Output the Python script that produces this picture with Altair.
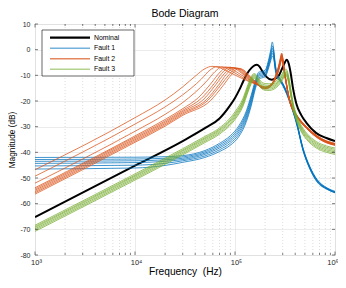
import altair as alt
import pandas as pd

# ---------------- data ----------------
TITLE = "Bode Diagram"
GROUPS = ["Nominal", "Fault 1", "Fault 2", "Fault 3"]
COLORS = ["#000000", "#0072BD", "#D95319", "#77AC30"]

NOMINAL_F = [1e3, 1e4, 3e4, 5e4, 7e4, 8.9e4, 1e5, 1.12e5, 1.21e5, 1.33e5, 1.47e5, 1.57e5, 1.65e5,
             1.75e5, 1.87e5, 2.05e5, 2.33e5, 2.55e5, 2.75e5, 2.95e5, 3.15e5, 3.29e5, 3.45e5, 3.6e5,
             3.8e5, 4.1e5, 4.6e5, 5.2e5, 6.5e5, 8.2e5, 1e6]
NOMINAL_DB = [-65.2, -45.2, -35.6, -30.6, -26.8, -21.8, -18.8, -15.2, -12.3, -9.2, -7.0, -6.1, -5.9,
              -6.5, -8.3, -10.5, -11.7, -11.2, -10.0, -7.5, -5.0, -3.9, -5.5, -9.0,
              -15.0, -21.0, -25.5, -28.6, -32.5, -34.4, -35.6]

FAULT1_F = [1e3, 1e4, 2e4, 3e4, 5e4, 7e4, 9e4, 1.1e5, 1.3e5, 1.45e5, 1.6e5, 1.72e5, 1.85e5, 2.0e5,
            2.15e5, 2.28e5, 2.36e5, 2.44e5, 2.52e5, 2.62e5, 2.8e5, 3e5, 3.3e5, 3.6e5, 4.1e5, 4.8e5,
            5.6e5, 6.6e5, 8.3e5, 1e6]
FAULT1_DB = [
    [-42.0, -41.9, -41.7, -41.3, -39.3, -36.5, -33.5, -29.5, -23.8, -17.8, -12.0, -8.8, -8.5, -8.0,
     -4.5, 0.0, 3.0, 0.0, -5.0, -9.0, -11.0, -13.0, -16.5, -20.5, -27.5, -38.5, -45.5, -50.5, -53.8, -55.2],
    [-42.8, -42.6, -42.3, -41.8, -39.8, -37.1, -34.2, -30.3, -24.6, -18.6, -12.6, -9.4, -9.0, -8.6,
     -5.2, -1.0, 1.5, -0.8, -5.6, -9.4, -11.3, -13.2, -16.7, -20.7, -27.7, -38.7, -45.7, -50.7, -54.0, -55.4],
    [-43.5, -43.3, -42.9, -42.3, -40.3, -37.7, -34.9, -31.1, -25.4, -19.4, -13.2, -9.9, -9.5, -9.1,
     -5.8, -1.8, 0.5, -1.5, -6.1, -9.7, -11.5, -13.4, -16.9, -20.9, -27.9, -38.9, -45.9, -50.9, -54.1, -55.5],
    [-44.3, -44.0, -43.5, -42.8, -40.8, -38.3, -35.6, -31.9, -26.2, -20.2, -13.8, -10.4, -10.0, -9.6,
     -6.4, -2.6, -0.5, -2.2, -6.6, -10.0, -11.7, -13.6, -17.1, -21.1, -28.1, -39.1, -46.1, -51.1, -54.2, -55.6],
    [-45.3, -45.0, -44.3, -43.3, -41.4, -39.0, -36.4, -32.8, -27.1, -21.1, -14.5, -11.0, -10.5, -10.1,
     -7.0, -3.4, -1.5, -2.9, -7.1, -10.3, -11.9, -13.8, -17.3, -21.3, -28.3, -39.3, -46.3, -51.3, -54.3, -55.7],
    [-46.5, -46.1, -45.1, -43.9, -42.0, -39.7, -37.2, -33.7, -28.0, -22.0, -15.2, -11.6, -11.0, -10.6,
     -7.6, -4.2, -2.5, -3.6, -7.6, -10.6, -12.1, -14.0, -17.5, -21.5, -28.5, -39.5, -46.5, -51.5, -54.4, -55.8],
]

FAULT2_TAIL_F = [1.8e5, 2.0e5, 2.2e5, 2.4e5, 2.6e5, 2.75e5, 2.86e5, 2.93e5, 3.0e5, 3.1e5, 3.3e5,
                 3.55e5, 3.8e5, 4.1e5, 4.6e5, 5.2e5, 6.5e5, 8.2e5, 1e6]
FAULT2_HEAD_F = [
    [1e3, 1e4, 2e4, 3e4, 4.1e4, 5e4, 5.9e4, 7e4, 8.5e4, 1.05e5, 1.3e5, 1.6e5],
    [1e3, 1e4, 2e4, 3e4, 4.6e4, 5.6e4, 6.6e4, 7.8e4, 9.5e4, 1.15e5, 1.35e5, 1.6e5],
    [1e3, 1e4, 2e4, 3e4, 5.2e4, 6.3e4, 7.4e4, 8.7e4, 1.05e5, 1.25e5, 1.45e5, 1.6e5],
    [1e3, 1e4, 2e4, 3e4, 4.3e4, 5.8e4, 7e4, 8.3e4, 9.7e4, 1.15e5, 1.35e5, 1.6e5],
    [1e3, 1e4, 2e4, 3e4, 4.6e4, 6.2e4, 7.4e4, 8.8e4, 1.03e5, 1.2e5, 1.4e5, 1.6e5],
    [1e3, 1e4, 2e4, 3e4, 4.9e4, 6.5e4, 7.8e4, 9.3e4, 1.08e5, 1.25e5, 1.45e5, 1.6e5],
    [1e3, 1e4, 2e4, 3e4, 5.2e4, 6.9e4, 8.2e4, 9.8e4, 1.13e5, 1.3e5, 1.5e5, 1.65e5],
    [1e3, 1e4, 2e4, 3e4, 5.4e4, 7.2e4, 8.7e4, 1.03e5, 1.18e5, 1.35e5, 1.55e5, 1.65e5],
    [1e3, 1e4, 2e4, 3e4, 5.7e4, 7.6e4, 9.1e4, 1.08e5, 1.23e5, 1.4e5, 1.55e5, 1.65e5],
]
FAULT2_HEAD_DB = [
    [-46.8, -26.5, -19.6, -14.5, -10.0, -7.4, -6.5, -7.0, -8.5, -10.3, -12.0, -13.3],
    [-49.3, -29.0, -22.3, -17.6, -11.5, -8.0, -6.6, -7.0, -8.6, -10.5, -12.0, -13.4],
    [-52.0, -31.8, -25.2, -20.6, -12.3, -8.6, -6.7, -7.1, -8.8, -10.7, -12.3, -13.3],
    [-53.8, -33.6, -27.2, -23.0, -18.7, -13.0, -9.0, -6.8, -7.2, -9.0, -11.2, -13.2],
    [-54.3, -34.1, -27.8, -23.6, -19.0, -13.2, -9.2, -6.9, -7.3, -9.2, -11.4, -13.0],
    [-54.8, -34.6, -28.3, -24.1, -19.2, -13.4, -9.4, -7.0, -7.5, -9.4, -11.6, -12.8],
    [-55.3, -35.1, -28.8, -24.6, -19.4, -13.6, -9.6, -7.1, -7.6, -9.6, -11.8, -12.8],
    [-55.8, -35.6, -29.3, -25.1, -19.6, -13.8, -9.8, -7.2, -7.8, -10.0, -12.0, -12.8],
    [-56.3, -36.1, -29.8, -25.6, -19.8, -14.0, -10.0, -7.3, -8.0, -10.2, -12.0, -12.9],
]
FAULT2_TAIL_DB = [
    [-14.0, -14.5, -14.0, -12.5, -9.0, -5.8, -2.8, -1.3, -2.9, -7.0, -14.0, -20.0, -23.0, -25.2, -27.8, -30.0, -33.3, -35.5, -36.5],
    [-14.1, -14.6, -14.1, -12.6, -9.2, -6.1, -3.1, -1.6, -3.2, -7.2, -14.1, -20.1, -23.1, -25.3, -27.9, -30.1, -33.4, -35.6, -36.6],
    [-14.2, -14.7, -14.2, -12.7, -9.4, -6.4, -3.4, -2.0, -3.5, -7.5, -14.2, -20.2, -23.2, -25.4, -28.0, -30.2, -33.5, -35.7, -36.7],
    [-14.3, -14.8, -14.3, -12.8, -9.6, -6.6, -3.7, -2.3, -3.8, -7.7, -14.3, -20.3, -23.3, -25.5, -28.1, -30.3, -33.6, -35.8, -36.8],
    [-14.4, -14.9, -14.4, -12.9, -9.8, -6.9, -4.0, -2.6, -4.1, -7.9, -14.4, -20.4, -23.4, -25.6, -28.2, -30.4, -33.7, -35.9, -36.9],
    [-14.5, -15.0, -14.5, -13.0, -10.0, -7.1, -4.3, -2.9, -4.4, -8.1, -14.5, -20.5, -23.5, -25.7, -28.3, -30.5, -33.8, -36.0, -37.0],
    [-14.6, -15.1, -14.6, -13.1, -10.2, -7.4, -4.6, -3.2, -4.7, -8.3, -14.6, -20.6, -23.6, -25.8, -28.4, -30.6, -33.9, -36.1, -37.1],
    [-14.7, -15.2, -14.7, -13.2, -10.4, -7.6, -4.9, -3.5, -5.0, -8.5, -14.7, -20.7, -23.7, -25.9, -28.5, -30.7, -34.0, -36.2, -37.2],
    [-14.8, -15.3, -14.8, -13.3, -10.6, -7.9, -5.2, -3.8, -5.3, -8.7, -14.8, -20.8, -23.8, -26.0, -28.6, -30.8, -34.1, -36.3, -37.3],
]

FAULT3_F = [1e3, 1e4, 3e4, 5e4, 7e4, 1e5, 1.2e5, 1.35e5, 1.45e5, 1.55e5, 1.65e5, 1.8e5, 2e5, 2.2e5,
            2.45e5, 2.7e5, 2.95e5, 3.15e5, 3.25e5, 3.4e5, 3.6e5, 3.8e5, 4.1e5, 4.6e5, 5.2e5, 6.5e5,
            8.2e5, 1e6]
FAULT3_DB = [
    [-68.4, -48.4, -38.6, -33.8, -30.5, -24.2, -19.0, -13.5, -10.6, -9.3, -10.0, -12.2, -13.2, -13.3,
     -12.8, -11.5, -9.5, -7.8, -7.6, -9.5, -15.0, -20.5, -25.0, -29.5, -32.5, -35.8, -37.5, -38.3],
    [-68.9, -48.9, -39.1, -34.3, -31.0, -24.9, -19.8, -14.2, -11.2, -9.7, -10.4, -12.7, -13.8, -13.9,
     -13.4, -12.1, -10.1, -8.4, -8.2, -10.1, -15.6, -21.0, -25.5, -30.0, -33.0, -36.3, -38.0, -38.8],
    [-69.3, -49.3, -39.5, -34.7, -31.4, -25.4, -20.3, -14.7, -11.7, -10.1, -10.8, -13.2, -14.3, -14.4,
     -13.9, -12.6, -10.6, -8.9, -8.8, -10.7, -16.1, -21.5, -26.0, -30.5, -33.5, -36.8, -38.5, -39.3],
    [-69.8, -49.8, -40.0, -35.2, -31.9, -26.0, -20.9, -15.3, -12.2, -10.5, -11.2, -13.7, -14.8, -14.9,
     -14.4, -13.1, -11.2, -9.4, -9.3, -11.2, -16.6, -22.0, -26.5, -31.0, -34.0, -37.3, -39.0, -39.8],
    [-70.3, -50.3, -40.5, -35.7, -32.4, -26.6, -21.5, -15.9, -12.8, -10.9, -11.6, -14.2, -15.3, -15.4,
     -14.9, -13.6, -11.7, -9.9, -9.8, -11.7, -17.1, -22.5, -27.0, -31.5, -34.5, -37.8, -39.5, -40.3],
    [-70.8, -50.8, -41.0, -36.2, -32.9, -27.2, -22.1, -16.5, -13.3, -11.3, -12.0, -14.7, -15.8, -15.9,
     -15.4, -14.1, -12.2, -10.4, -10.3, -12.2, -17.6, -23.0, -27.5, -32.0, -35.0, -38.3, -40.0, -40.8],
]

MAJOR_X = [1e3, 1e4, 1e5, 1e6]
MINOR_X = [m * d for d in [1e3, 1e4, 1e5] for m in range(2, 10)]
Y_TICKS = [-80, -70, -60, -50, -40, -30, -20, -10, 0, 10]

# ---------------- build table ----------------
rows = []
def add(group, curve, fs, dbs):
    for f, d in zip(fs, dbs):
        rows.append({"group": group, "curve": curve, "f": f, "db": d})

add("Nominal", "n0", NOMINAL_F, NOMINAL_DB)
for i, dbs in enumerate(FAULT1_DB):
    add("Fault 1", f"b{i}", FAULT1_F, dbs)
for i in range(len(FAULT2_HEAD_F)):
    add("Fault 2", f"o{i}", FAULT2_HEAD_F[i] + FAULT2_TAIL_F, FAULT2_HEAD_DB[i] + FAULT2_TAIL_DB[i])
for i, dbs in enumerate(FAULT3_DB):
    add("Fault 3", f"g{i}", FAULT3_F, dbs)
df = pd.DataFrame(rows)

W, H = 300, 231
FONT = "Liberation Sans"
TXT = "#262626"
GRID = "#e2e2e2"

xscale = alt.Scale(type="log", domain=[1e3, 1e6], nice=False)
yscale = alt.Scale(domain=[-80, 10], nice=False, zero=False)
cscale = alt.Scale(domain=GROUPS, range=COLORS)

sup = ("datum.value < 5000 ? '10\u00b3' : datum.value < 50000 ? '10\u2074' : "
       "datum.value < 500000 ? '10\u2075' : '10\u2076'")

xaxis = alt.Axis(values=MAJOR_X, grid=True, gridColor=GRID, gridWidth=0.7, ticks=False, domain=False,
                 labelExpr=sup, labelFont=FONT, labelFontSize=7.5, labelColor=TXT, labelPadding=3,
                 labelOffset={"condition": {"test": "datum.value > 500000", "value": -2.5}, "value": 1},
                 labelOverlap=False, labelFlush=False,
                 title="Frequency\u00a0 (Hz)", titleFont=FONT, titleFontSize=10.2,
                 titleFontWeight="normal", titleColor="#000000", titlePadding=1)
yaxis = alt.Axis(values=Y_TICKS, grid=True, gridColor=GRID, gridWidth=0.7, ticks=False, domain=False,
                 labelExpr="toString(datum.value)", labelFont=FONT, labelFontSize=7, labelColor=TXT,
                 labelPadding=5, labelOverlap=False, labelFlush=False,
                 title="Magnitude (dB)", titleFont=FONT, titleFontSize=8.3,
                 titleFontWeight="normal", titleColor="#000000", titlePadding=3)

minor_df = pd.DataFrame({"f": MINOR_X})
major_df = pd.DataFrame({"f": MAJOR_X})
yt_df = pd.DataFrame({"v": Y_TICKS})

X = lambda: alt.X("f:Q", scale=xscale, axis=xaxis)
Y = lambda field: alt.Y(field, scale=yscale, axis=yaxis)

minor_grid = alt.Chart(minor_df).mark_rule(color="#cfcfcf", strokeWidth=0.7, strokeDash=[1, 2]).encode(
    x=X())

def lines(group, width, opacity):
    return alt.Chart(df[df.group == group]).mark_line(
        strokeWidth=width, opacity=opacity, interpolate="monotone", clip=True).encode(
        x=X(), y=Y("db:Q"),
        color=alt.Color("group:N", scale=cscale, legend=None),
        detail="curve:N")

layers = [minor_grid,
          lines("Nominal", 2.0, 1.0),
          lines("Fault 1", 1.0, 0.75),
          lines("Fault 2", 1.0, 0.75),
          lines("Fault 3", 1.0, 0.75)]

# inner ticks on all four sides
for (x0, x1) in [(0, 3), (W - 3, W)]:
    layers.append(alt.Chart(yt_df).mark_rule(color=TXT, strokeWidth=0.6).encode(
        y=Y("v:Q"), x=alt.value(x0), x2=alt.value(x1)))
for (src, ln) in [(major_df, 3.5), (minor_df, 2)]:
    layers.append(alt.Chart(src).mark_rule(color=TXT, strokeWidth=0.6).encode(
        x=X(), y=alt.value(H), y2=alt.value(H - ln)))
    layers.append(alt.Chart(src).mark_rule(color=TXT, strokeWidth=0.6).encode(
        x=X(), y=alt.value(0), y2=alt.value(ln)))

# legend box
one = alt.Data(values=[{"k": 0}])
layers.append(alt.Chart(one).mark_rect(fill="white", stroke=TXT, strokeWidth=0.7).encode(
    x=alt.value(7), x2=alt.value(99), y=alt.value(6), y2=alt.value(52)))
LEG_W = [2.2, 1.6, 1.6, 1.6]
LEG_OP = [1.0, 0.55, 0.7, 0.55]
for i, (g, c) in enumerate(zip(GROUPS, COLORS)):
    yy = 13.7 + 10.5 * i
    src = alt.Data(values=[{"label": g}])
    layers.append(alt.Chart(src).mark_rule(color=c, strokeWidth=LEG_W[i], opacity=LEG_OP[i]).encode(
        x=alt.value(15), x2=alt.value(55), y=alt.value(yy)))
    layers.append(alt.Chart(src).mark_text(align="left", baseline="middle", font=FONT, fontSize=6.9,
                                           color="#000000").encode(
        x=alt.value(59), y=alt.value(yy), text="label:N"))

# chart title as a text mark above the plot area
layers.append(alt.Chart(alt.Data(values=[{"t": TITLE}])).mark_text(
    align="center", baseline="middle", font=FONT, fontSize=10.5, color="#000000").encode(
    x=alt.value(W / 2), y=alt.value(-10), text="t:N"))

chart = alt.layer(*layers).properties(
    width=W, height=H,
    autosize=alt.AutoSizeParams(type="none"),
    padding={"left": 27, "top": 16, "right": 3, "bottom": 22},
).configure_view(stroke=TXT, strokeWidth=0.7).configure(background="white")

chart.save("out.html", embed_options={"renderer": "svg", "actions": False})
